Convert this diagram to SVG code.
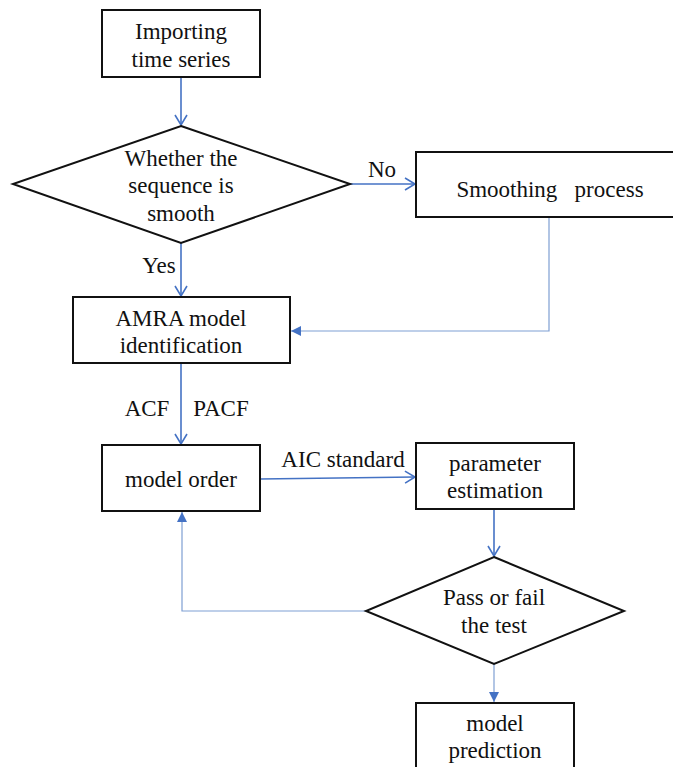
<svg xmlns="http://www.w3.org/2000/svg" width="673" height="767" viewBox="0 0 673 767">
<style>
.box{fill:#fff;stroke:#111;stroke-width:2}
.t{font-family:'Liberation Serif',serif;font-size:23px;fill:#111;text-anchor:middle}
.c{fill:none;stroke:#4472C4;stroke-width:1.6}
.thin{fill:none;stroke:#7F9FD3;stroke-width:1.2}
</style>
<defs>
<marker id="open" markerWidth="14" markerHeight="14" refX="11" refY="7" orient="auto" markerUnits="userSpaceOnUse">
<path d="M1,1 L11,7 L1,13" fill="none" stroke="#4472C4" stroke-width="1.6"/>
</marker>
<marker id="fill" markerWidth="12" markerHeight="12" refX="10" refY="6" orient="auto" markerUnits="userSpaceOnUse">
<path d="M0,1 L10,6 L0,11 Z" fill="#4472C4"/>
</marker>
</defs>
<g id="connectors">
<line class="c" x1="181" y1="77" x2="181" y2="125" marker-end="url(#open)"/>
<line class="c" x1="350" y1="184" x2="415" y2="184" marker-end="url(#open)"/>
<line class="c" x1="181" y1="243" x2="181" y2="296" marker-end="url(#open)"/>
<polyline class="thin" points="549,217 549,331 291,331" marker-end="url(#fill)"/>
<line class="c" x1="181" y1="363" x2="181" y2="444" marker-end="url(#open)"/>
<line class="c" x1="260" y1="479" x2="415" y2="477" marker-end="url(#open)"/>
<line class="c" x1="494" y1="510" x2="494" y2="556" marker-end="url(#open)"/>
<polyline class="thin" points="366,611 182,611 182,512" marker-end="url(#fill)"/>
<line class="thin" x1="494" y1="664" x2="494" y2="702" marker-end="url(#fill)"/>
<text class="t" x="382" y="177">No</text>
<text class="t" x="159" y="273">Yes</text>
<text class="t" x="147" y="416">ACF</text>
<text class="t" x="221" y="416">PACF</text>
<text class="t" x="343" y="467">AIC standard</text>
</g>
<g id="import">
<rect class="box" x="102" y="10" width="158" height="67"/>
<text class="t" x="181" y="39">Importing</text>
<text class="t" x="181" y="67">time series</text>
</g>
<g id="smooth-check">
<polygon class="box" points="181,126 350,184 181,243 13,184"/>
<text class="t" x="181" y="166">Whether the</text>
<text class="t" x="181" y="193">sequence is</text>
<text class="t" x="181" y="221">smooth</text>
</g>
<g id="smoothing">
<rect class="box" x="416" y="152" width="262" height="65"/>
<text class="t" x="550" y="197">Smoothing&#160;&#160; process</text>
</g>
<g id="amra">
<rect class="box" x="73" y="297" width="217" height="66"/>
<text class="t" x="181" y="326">AMRA model</text>
<text class="t" x="181" y="353">identification</text>
</g>
<g id="model-order">
<rect class="box" x="102" y="445" width="158" height="66"/>
<text class="t" x="181" y="487">model order</text>
</g>
<g id="parameter">
<rect class="box" x="416" y="443" width="158" height="66"/>
<text class="t" x="495" y="471">parameter</text>
<text class="t" x="495" y="498">estimation</text>
</g>
<g id="pass-fail">
<polygon class="box" points="494,557 624,611 494,664 366,611"/>
<text class="t" x="494" y="605">Pass or fail</text>
<text class="t" x="494" y="633">the test</text>
</g>
<g id="prediction">
<rect class="box" x="416" y="703" width="158" height="80"/>
<text class="t" x="495" y="731">model</text>
<text class="t" x="495" y="758">prediction</text>
</g>
</svg>
